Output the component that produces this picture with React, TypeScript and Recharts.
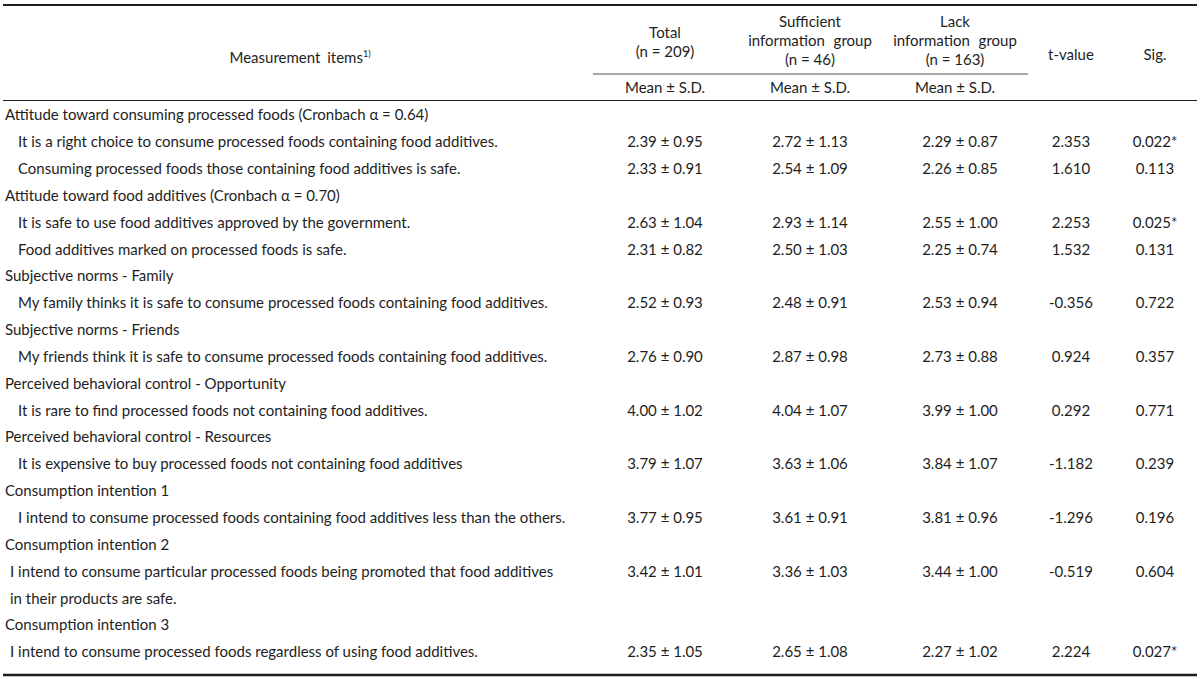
import React from 'react';
import { ComposedChart, XAxis, YAxis, Bar, Customized } from 'recharts';

const FONT = 'Lato, "Noto Sans", sans-serif';
const INK = '#1e1e1e';

// Row groups (constructs) and their items
const groupLabels = [
  'Attitude toward consuming processed foods (Cronbach \u03b1 = 0.64)',
  'Attitude toward food additives (Cronbach \u03b1 = 0.70)',
  'Subjective norms - Family',
  'Subjective norms - Friends',
  'Perceived behavioral control - Opportunity',
  'Perceived behavioral control - Resources',
  'Consumption intention 1',
  'Consumption intention 2',
  'Consumption intention 3',
];

const itemLabels = [
  ['It is a right choice to consume processed foods containing food additives.'],
  ['Consuming processed foods those containing food additives is safe.'],
  ['It is safe to use food additives approved by the government.'],
  ['Food additives marked on processed foods is safe.'],
  ['My family thinks it is safe to consume processed foods containing food additives.'],
  ['My friends think it is safe to consume processed foods containing food additives.'],
  ['It is rare to find processed foods not containing food additives.'],
  ['It is expensive to buy processed foods not containing food additives'],
  ['I intend to consume processed foods containing food additives less than the others.'],
  [
    'I intend to consume particular processed foods being promoted that food additives',
    'in their products are safe.',
  ],
  ['I intend to consume processed foods regardless of using food additives.'],
];

const itemGroup = [0, 0, 1, 1, 2, 3, 4, 5, 6, 7, 8];

const totalMean = [2.39, 2.33, 2.63, 2.31, 2.52, 2.76, 4.0, 3.79, 3.77, 3.42, 2.35];
const totalSd = [0.95, 0.91, 1.04, 0.82, 0.93, 0.9, 1.02, 1.07, 0.95, 1.01, 1.05];
const sufficientMean = [2.72, 2.54, 2.93, 2.5, 2.48, 2.87, 4.04, 3.63, 3.61, 3.36, 2.65];
const sufficientSd = [1.13, 1.09, 1.14, 1.03, 0.91, 0.98, 1.07, 1.06, 0.91, 1.03, 1.08];
const lackMean = [2.29, 2.26, 2.55, 2.25, 2.53, 2.73, 3.99, 3.84, 3.81, 3.44, 2.27];
const lackSd = [0.87, 0.85, 1.0, 0.74, 0.94, 0.88, 1.0, 1.07, 0.96, 1.0, 1.02];
const tValues = [2.353, 1.61, 2.253, 1.532, -0.356, 0.924, 0.292, -1.182, -1.296, -0.519, 2.224];
const sigValues = [0.022, 0.113, 0.025, 0.131, 0.722, 0.357, 0.771, 0.239, 0.196, 0.604, 0.027];

// column centres (px)
const COL = { total: 665, sufficient: 810, lack: 960, t: 1071, sig: 1155 };

type Row = { key: string; kind: 'group' | 'item' | 'cont'; text: string; item: number; mean: number };

const rows: Row[] = [];
groupLabels.forEach((label, gi) => {
  rows.push({ key: `g${gi}`, kind: 'group', text: label, item: -1, mean: 0 });
  itemGroup.forEach((g, ii) => {
    if (g !== gi) return;
    const lines = itemLabels[ii];
    rows.push({ key: `i${ii}`, kind: 'item', text: lines[0], item: ii, mean: totalMean[ii] });
    lines.slice(1).forEach((l, li) =>
      rows.push({ key: `c${ii}_${li}`, kind: 'cont', text: l, item: ii, mean: 0 })
    );
  });
});

const meanSd = (m: number, s: number) => `${m.toFixed(2)} \u00b1 ${s.toFixed(2)}`;

const textStyle = { fontFamily: FONT, fontSize: 15, fill: INK };

function RowTick(props: any) {
  const { y, payload } = props;
  const row = rows.find((r) => r.key === payload.value);
  if (!row) return <g />;
  const indent = row.kind === 'group' ? 5 : row.item >= 9 ? 10 : 18;
  const i = row.item;
  return (
    <g>
      <text x={indent} y={y} dy="0.35em" textAnchor="start" style={textStyle}>
        {row.text}
      </text>
      {row.kind === 'item' && (
        <>
          <text x={COL.total} y={y} dy="0.35em" textAnchor="middle" style={textStyle}>
            {meanSd(totalMean[i], totalSd[i])}
          </text>
          <text x={COL.sufficient} y={y} dy="0.35em" textAnchor="middle" style={textStyle}>
            {meanSd(sufficientMean[i], sufficientSd[i])}
          </text>
          <text x={COL.lack} y={y} dy="0.35em" textAnchor="middle" style={textStyle}>
            {meanSd(lackMean[i], lackSd[i])}
          </text>
          <text x={COL.t} y={y} dy="0.35em" textAnchor="middle" style={textStyle}>
            {tValues[i].toFixed(3)}
          </text>
          <text x={COL.sig} y={y} dy="0.35em" textAnchor="middle" style={textStyle}>
            {sigValues[i].toFixed(3) + (sigValues[i] < 0.05 ? '*' : '')}
          </text>
        </>
      )}
    </g>
  );
}

function HeaderText({ x, y, lines }: { x: number; y: number; lines: string[] }) {
  return (
    <text x={x} y={y} textAnchor="middle" style={textStyle}>
      {lines.map((l, k) => (
        <tspan
          key={k}
          x={x}
          dy={k === 0 ? '0.35em' : 19}
          style={l.startsWith('information') ? { wordSpacing: 5 } : undefined}
        >
          {l}
        </tspan>
      ))}
    </text>
  );
}

function Header() {
  return (
    <g>
      <line x1={3} x2={1197} y1={5} y2={5} stroke={INK} strokeWidth={2} />
      <text x={300} y={58} dy="0.35em" textAnchor="middle" style={{ ...textStyle, wordSpacing: 3 }}>
        Measurement items
        <tspan dy={-6} fontSize={9}>
          1)
        </tspan>
      </text>
      <HeaderText x={COL.total} y={33} lines={['Total', '(n = 209)']} />
      <HeaderText x={COL.sufficient} y={22} lines={['Sufficient', 'information group', '(n = 46)']} />
      <HeaderText x={COL.lack - 5} y={22} lines={['Lack', 'information group', '(n = 163)']} />
      <HeaderText x={COL.t} y={55} lines={['t-value']} />
      <HeaderText x={COL.sig} y={55} lines={['Sig.']} />
      <line x1={593} x2={1028} y1={74} y2={74} stroke="#8a8a8a" strokeWidth={1.5} />
      <HeaderText x={COL.total} y={88} lines={['Mean \u00b1 S.D.']} />
      <HeaderText x={COL.sufficient} y={88} lines={['Mean \u00b1 S.D.']} />
      <HeaderText x={COL.lack - 5} y={88} lines={['Mean \u00b1 S.D.']} />
      <line x1={3} x2={1197} y1={100.5} y2={100.5} stroke={INK} strokeWidth={1} />
      <line x1={3} x2={1197} y1={675} y2={675} stroke={INK} strokeWidth={2.5} />
    </g>
  );
}

export default function App() {
  return (
    <div style={{ position: 'absolute', left: 0, top: 0, width: 1200, height: 679, background: '#fff' }}>
      <ComposedChart
        width={1200}
        height={679}
        layout="vertical"
        data={rows}
        margin={{ top: 101.6, right: 0, bottom: 13.6, left: 0 }}
      >
        <XAxis type="number" dataKey="mean" domain={[0, 5]} hide />
        <YAxis
          type="category"
          dataKey="key"
          width={1}
          axisLine={false}
          tickLine={false}
          interval={0}
          tick={(p: any) => <RowTick {...p} />}
        />
        {/* invisible carrier series so the category axis gets its rows */}
        <Bar dataKey="mean" fill="none" isAnimationActive={false} />
        <Customized component={<Header />} />
      </ComposedChart>
    </div>
  );
}
